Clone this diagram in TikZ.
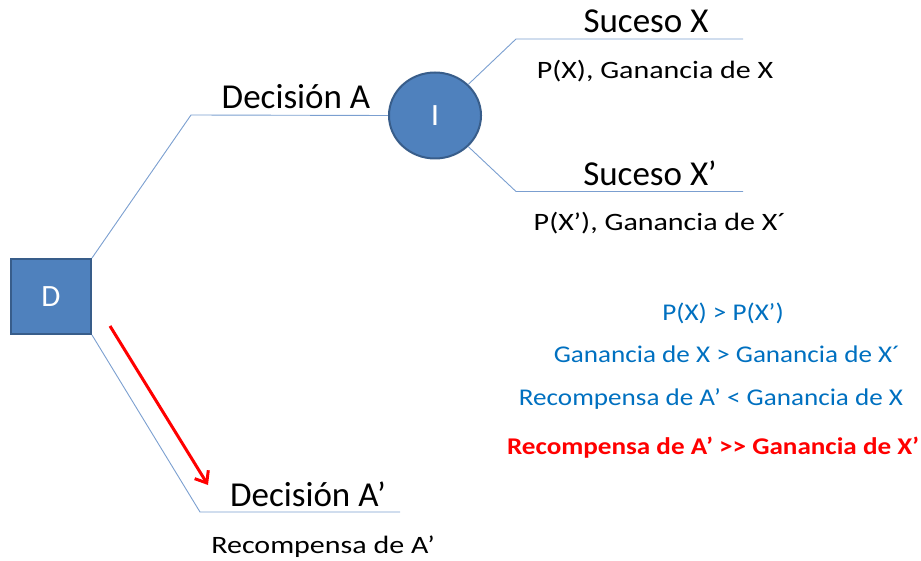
\documentclass[tikz,border=0pt]{standalone}
\usepackage{fontspec}
\setmainfont{Carlito}
\newfontfamily\subfont[FakeStretch=1.2]{Carlito}
\newfontfamily\notefont[FakeStretch=1.13]{Carlito}
\usetikzlibrary{arrows.meta}
\definecolor{boxfill}{HTML}{4F81BD}
\definecolor{boxedge}{HTML}{385D8A}
\definecolor{branch}{HTML}{7B9FD0}
\definecolor{note}{HTML}{0070C0}
\tikzset{
  decbox/.style={draw=boxedge, line width=2pt, fill=boxfill, text=white,
    minimum width=80pt, minimum height=75pt, inner sep=0pt, font=\fontsize{31}{34}\selectfont},
  chance/.style={draw=boxedge, line width=2pt, fill=boxfill, text=white,
    circle, minimum size=86pt, xscale=1.07, inner sep=0pt, font=\fontsize{31}{34}\selectfont},
  branchline/.style={draw=branch, line width=0.9pt},
  bigtitle/.style={anchor=base, inner sep=0pt, font=\fontsize{35}{40}\selectfont},
  subtitle/.style={anchor=base, inner sep=0pt, font=\subfont\fontsize{25}{29}\selectfont},
  notetext/.style={anchor=base, inner sep=0pt, text=note, font=\notefont\fontsize{24}{28}\selectfont},
  warntext/.style={anchor=base, inner sep=0pt, text=red, font=\notefont\bfseries\fontsize{24}{28}\selectfont},
}
\begin{document}
\begin{tikzpicture}[x=1pt, y=-1pt]
\useasboundingbox (0,0) rectangle (921,561);

% decision and chance nodes
\node[decbox] (D) at (51,296.5) {D};
\node[chance] (I) at (435,115.5) {I};

% bend points of the branches
\coordinate (a1) at (191,115);
\coordinate (a2) at (200,512);
\coordinate (a2e) at (400,512);
\coordinate (x1) at (516,39);
\coordinate (x1e) at (743,39);
\coordinate (x2) at (516,191.5);
\coordinate (x2e) at (743,191.5);

% branches
\draw[branchline] (D.north east) -- (a1) -- (I.west);
\draw[branchline] (D.south east) -- (a2) -- (a2e);
\draw[branchline] (I.north east) -- (x1) -- (x1e);
\draw[branchline] (I.south east) -- (x2) -- (x2e);

% branch labels
\node[bigtitle] (la) at (296,109) {Decisión A};
\node[bigtitle] (lx) at (646,33) {Suceso X};
\node[subtitle] (px) at (655,79) {P(X), Ganancia de X};
\node[bigtitle] (lx2) at (650,186) {Suceso X’};
\node[subtitle] (px2) at (660,231) {P(X’), Ganancia de X´};
\node[bigtitle] (la2) at (308,506) {Decisión A’};
\node[subtitle] (ra2) at (323,553) {Recompensa de A’};

% comparison notes
\node[notetext] (n1) at (723,320) {P(X) > P(X’)};
\node[notetext] (n2) at (727,362) {Ganancia de X > Ganancia de X´};
\node[notetext] (n3) at (711,405) {Recompensa de A’ < Ganancia de X};
\node[warntext] (n4) at (713,454) {Recompensa de A’ >{}> Ganancia de X’};

% highlighted choice
\coordinate (r1) at (110,326);
\coordinate (r2) at (208,485);
\draw[red, line width=3pt, -{Straight Barb[length=10pt, width=16pt, line width=3pt]}] (r1) -- (r2);
\end{tikzpicture}
\end{document}
